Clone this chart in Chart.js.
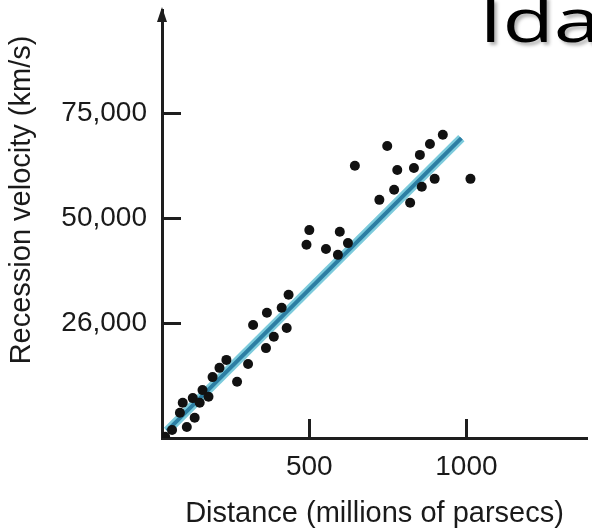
<!DOCTYPE html>
<html>
<head>
<meta charset="utf-8">
<script src="https://cdn.jsdelivr.net/npm/chart.js@4.4.1/dist/chart.umd.min.js"></script>
<style>
  html, body { margin: 0; padding: 0; background: #fff; overflow: hidden; }
  #wrap { position: relative; width: 592px; height: 531px; }
  #slideTitle {
    position: absolute; left: 479px; top: -11px;
    font-family: "Open Sans", sans-serif; font-size: 60px; line-height: 1;
    color: #000; white-space: nowrap;
    transform: scaleX(1.4); transform-origin: left top;
    text-shadow: 2px 3px 3px rgba(0, 0, 0, 0.3);
  }
</style>
</head>
<body>
<div id="wrap">
  <canvas id="hubbleChart" width="592" height="531"></canvas>
  <div id="slideTitle">Ida</div>
</div>
<script>
// galaxies: distance (millions of parsecs) and recession velocity (km/s)
const distX = [748, 645, 925, 884, 852, 833, 780, 899, 1013, 858, 770, 723, 821,
  500, 597, 491, 553, 623, 591, 434, 365, 412, 321, 428, 387, 362, 305, 270,
  236, 214, 192, 160, 129, 179, 151, 97, 88, 135, 110, 63, 41];
const velY = [67100, 62400, 69800, 67600, 65000, 61900, 61400, 59300, 59300, 57400, 56700, 54300, 53600,
  47100, 46700, 43600, 42600, 44000, 41200, 31700, 27400, 28600, 24500, 23800, 21700, 19000, 15200, 11000,
  16200, 14300, 12100, 9000, 7100, 7400, 6000, 6000, 3600, 2400, 200, -500, -2100];

// fitted line endpoints
const fitX = [47, 984];
const fitY = [-700, 69000];

// axis ticks
const xTickValues = [500, 1000];
const xTickLabels = ["500", "1000"];
const yTickValues = [25000, 50000, 75000];
const yTickLabels = ["26,000", "50,000", "75,000"];

const AXIS_COLOR = "#1e1e1e";
const TEXT_COLOR = "#1a1a1a";
const FONT = "'Liberation Sans', Arial, sans-serif";

// inward tick marks, arrow on the y axis and the rotated y title
const axisExtras = {
  id: "axisExtras",
  afterDraw(chart) {
    const { ctx, chartArea, scales } = chart;
    ctx.save();
    ctx.strokeStyle = AXIS_COLOR;
    ctx.lineWidth = 3;
    yTickValues.forEach((v) => {
      const y = Math.round(scales.y.getPixelForValue(v)) + 0.5;
      ctx.beginPath();
      ctx.moveTo(chartArea.left, y);
      ctx.lineTo(chartArea.left + 19, y);
      ctx.stroke();
    });
    xTickValues.forEach((v) => {
      const x = Math.round(scales.x.getPixelForValue(v)) + 0.5;
      ctx.beginPath();
      ctx.moveTo(x, chartArea.bottom);
      ctx.lineTo(x, chartArea.bottom - 19);
      ctx.stroke();
    });
    // arrow head
    const ax = chartArea.left;
    ctx.fillStyle = AXIS_COLOR;
    ctx.beginPath();
    ctx.moveTo(ax, chartArea.top - 3);
    ctx.lineTo(ax - 5, chartArea.top + 12);
    ctx.lineTo(ax + 5, chartArea.top + 12);
    ctx.closePath();
    ctx.fill();
    // y title
    ctx.fillStyle = TEXT_COLOR;
    ctx.font = "29px " + FONT;
    ctx.textAlign = "center";
    ctx.textBaseline = "middle";
    ctx.translate(22, (chartArea.top + chartArea.bottom) / 2 - 24);
    ctx.rotate(-Math.PI / 2);
    ctx.fillText("Recession velocity (km/s)", 0, 0);
    ctx.restore();
  }
};

const ctx = document.getElementById("hubbleChart").getContext("2d");
new Chart(ctx, {
  type: "scatter",
  data: {
    datasets: [
      {
        label: "Galaxies",
        data: distX.map((x, i) => ({ x: x, y: velY[i] })),
        backgroundColor: "#111",
        borderWidth: 0,
        pointRadius: 5,
      },
      {
        label: "Fit core",
        type: "line",
        data: fitX.map((x, i) => ({ x: x, y: fitY[i] })),
        borderColor: "#2c7ea3",
        borderWidth: 4,
        pointRadius: 0,
      },
      {
        label: "Fit glow",
        type: "line",
        data: fitX.map((x, i) => ({ x: x, y: fitY[i] })),
        borderColor: "#7ccbdc",
        borderWidth: 9,
        pointRadius: 0,
      },
    ],
  },
  options: {
    responsive: false,
    animation: false,
    layout: { padding: { top: 10, right: 0, left: 0, bottom: 0 } },
    plugins: {
      legend: { display: false },
      tooltip: { enabled: false },
    },
    scales: {
      x: {
        type: "linear",
        min: 31,
        max: 1384,
        afterBuildTicks: (scale) => {
          scale.ticks = xTickValues.map((v) => ({ value: v }));
        },
        afterFit: (scale) => {
          scale.height = 93;
          scale.paddingLeft = 0;
          scale.paddingRight = 0;
        },
        ticks: {
          color: TEXT_COLOR,
          font: { family: FONT, size: 28 },
          padding: 12,
          maxRotation: 0,
          callback: (v) => xTickLabels[xTickValues.indexOf(v)],
        },
        grid: { drawOnChartArea: false, drawTicks: false },
        border: { display: true, color: AXIS_COLOR, width: 3 },
        title: {
          display: true,
          text: "Distance (millions of parsecs)",
          color: TEXT_COLOR,
          font: { family: FONT, size: 29 },
          padding: { top: 13, bottom: 0 },
        },
      },
      y: {
        type: "linear",
        min: -2400,
        max: 99500,
        afterBuildTicks: (scale) => {
          scale.ticks = yTickValues.map((v) => ({ value: v }));
        },
        afterFit: (scale) => {
          scale.width = 162;
          scale.paddingTop = 0;
          scale.paddingBottom = 0;
        },
        ticks: {
          color: TEXT_COLOR,
          font: { family: FONT, size: 28 },
          padding: 15,
          callback: (v) => yTickLabels[yTickValues.indexOf(v)],
        },
        grid: { drawOnChartArea: false, drawTicks: false },
        border: { display: true, color: AXIS_COLOR, width: 3 },
      },
    },
  },
  plugins: [axisExtras],
});
</script>
</body>
</html>
